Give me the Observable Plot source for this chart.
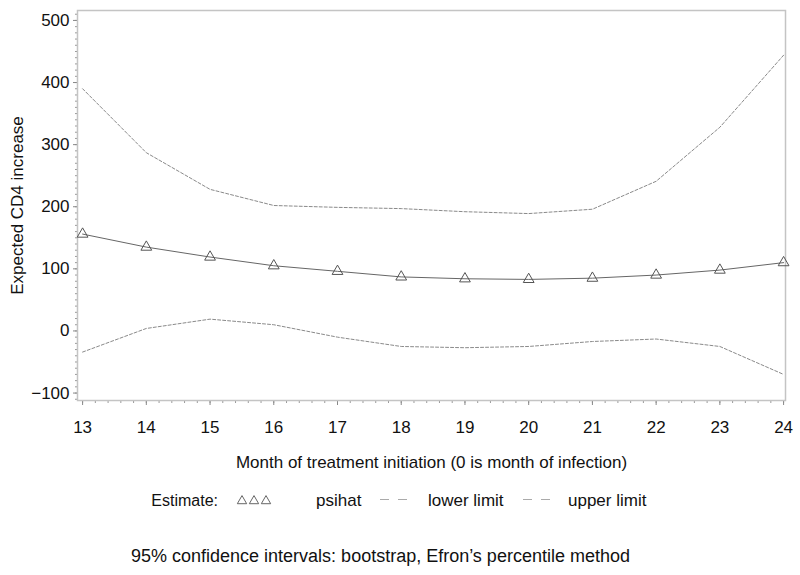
<!DOCTYPE html>
<html><head><meta charset="utf-8">
<script src="https://cdn.jsdelivr.net/npm/d3@7"></script>
<script src="https://cdn.jsdelivr.net/npm/@observablehq/plot@0.6"></script>
<style>
body{margin:0;background:#fff;font-family:"Liberation Sans",Arial,sans-serif;}
#wrap{position:relative;width:800px;height:575px;overflow:hidden;}
.lg{position:absolute;font-size:17px;color:#111;line-height:20px;top:491px;white-space:nowrap;}
.cap{position:absolute;font-size:18px;color:#111;line-height:20px;top:546px;left:131px;white-space:nowrap;}
</style></head><body>
<div id="wrap">
<div id="chart"></div>
<div class="lg" style="right:582px;text-align:right;font-size:16px;">Estimate:</div>
<svg class="lg" id="sw1" style="left:234px;top:493px" width="42" height="16"></svg>
<div class="lg" style="left:316px;">psihat</div>
<svg class="lg" style="left:378px;top:493px" width="32" height="16"><line x1="2" x2="11" y1="6.5" y2="6.5" stroke="#aaa" stroke-width="1"/><line x1="20" x2="29" y1="6.5" y2="6.5" stroke="#aaa" stroke-width="1"/></svg>
<div class="lg" style="left:428px;">lower limit</div>
<svg class="lg" style="left:521px;top:493px" width="32" height="16"><line x1="2" x2="11" y1="6.5" y2="6.5" stroke="#aaa" stroke-width="1"/><line x1="20" x2="29" y1="6.5" y2="6.5" stroke="#aaa" stroke-width="1"/></svg>
<div class="lg" style="left:568px;">upper limit</div>
<div class="cap" id="cap"></div>
</div>
<script>
const months = [13, 14, 15, 16, 17, 18, 19, 20, 21, 22, 23, 24];
const psihat = [156, 135, 119, 105, 96, 87, 84, 83, 85, 90, 98, 110];
const lowerLimit = [-34, 4, 19, 10, -10, -25, -27, -25, -17, -13, -25, -70];
const upperLimit = [390, 287, 228, 202, 199, 197, 192, 189, 196, 241, 328, 444];
const xTicks = [13, 14, 15, 16, 17, 18, 19, 20, 21, 22, 23, 24];
const yTicks = [-100, 0, 100, 200, 300, 400, 500];
const xTitle = "Month of treatment initiation (0 is month of infection)";
const yTitle = "Expected CD4 increase";
const legendTitle = "Estimate:";
const seriesNames = ["psihat", "lower limit", "upper limit"];
const caption = "95% confidence intervals: bootstrap, Efron\u2019s percentile method";

const rows = months.map((m, i) => ({month: m, psihat: psihat[i], lower: lowerLimit[i], upper: upperLimit[i]}));
const minorX = d3.range(13, 24.001, 0.2);
const minorY = d3.range(-110, 516, 10);
const font = "'Liberation Sans', Arial, sans-serif";

const plot = Plot.plot({
  width: 800, height: 480,
  marginLeft: 77, marginRight: 15, marginTop: 10, marginBottom: 80,
  style: {fontFamily: font, fontSize: "17px", color: "#111", background: "#fff"},
  x: {domain: [12.92, 24.03], label: null},
  y: {domain: [-112, 516], label: null},
  marks: [
    Plot.axisY(minorY, {tickSize: 2, tickFormat: () => "", stroke: "#999", label: null}),
    Plot.axisY(yTicks, {tickSize: 4, tickPadding: 4, stroke: "#888", label: null}),
    Plot.axisX(minorX, {tickSize: 3, tickFormat: () => "", stroke: "#999", label: null}),
    Plot.axisX(xTicks, {tickSize: 5, tickPadding: 15, stroke: "#888", label: null}),
    Plot.frame({stroke: "#c4c4c4", strokeWidth: 1.5}),
    Plot.line(rows, {x: "month", y: "upper", stroke: "#8a8a8a", strokeWidth: 1, strokeDasharray: "3,2"}),
    Plot.line(rows, {x: "month", y: "lower", stroke: "#8a8a8a", strokeWidth: 1, strokeDasharray: "3,2"}),
    Plot.line(rows, {x: "month", y: "psihat", stroke: "#666", strokeWidth: 1}),
    Plot.dot(rows, {x: "month", y: "psihat", symbol: "triangle", r: 4, stroke: "#555", strokeWidth: 1, fill: "none"}),
    Plot.text([yTitle], {text: d => d, frameAnchor: "left", textAnchor: "middle", dx: -60, rotate: -90, fontSize: 17, fill: "#111"}),
    Plot.text([xTitle], {text: d => d, frameAnchor: "bottom", dy: 67, fontSize: 17, fill: "#111"})
  ]
});
document.getElementById("chart").appendChild(plot);

// legend texts from arrays
const lgDivs = document.querySelectorAll("div.lg");
lgDivs[0].textContent = legendTitle;
lgDivs[1].textContent = seriesNames[0];
lgDivs[2].textContent = seriesNames[1];
lgDivs[3].textContent = seriesNames[2];
document.getElementById("cap").textContent = caption;

// triangle swatch
const sw = d3.select("#sw1");
const tri = d3.symbol(d3.symbolTriangle, 38);
[0, 1, 2].forEach(i => {
  sw.append("path").attr("d", tri()).attr("transform", `translate(${8 + i * 12},8)`)
    .attr("fill", "none").attr("stroke", "#666").attr("stroke-width", 1);
});
</script>
</body></html>
